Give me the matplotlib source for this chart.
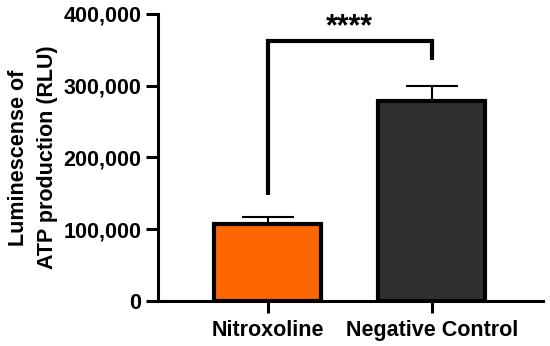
import matplotlib.pyplot as plt
from matplotlib.ticker import FuncFormatter

plt.rcParams['font.family'] = ['Liberation Sans', 'DejaVu Sans']
plt.rcParams['font.weight'] = 'bold'

groups = ['Nitroxoline', 'Negative Control']
means = [107000, 279000]
errs = [10000, 20000]
colors = ['#FF6600', '#303030']
bracket_y = [148000, 362000, 362000, 336000]

fig = plt.figure(figsize=(5.5, 3.46), dpi=100)
ax = fig.add_axes([0.287, 0.130, 0.700, 0.830])

x = list(range(len(groups)))
ax.bar(x, means, width=0.65, color=colors, edgecolor='black', linewidth=3, zorder=2)
ax.errorbar(x, means, yerr=[[0, 0], errs], fmt='none', ecolor='black',
            elinewidth=1.5, capsize=19, capthick=1.5, zorder=1)

# significance bracket
ax.plot([0, 0, 1, 1], bracket_y, color='black', lw=3, solid_capstyle='butt',
        solid_joinstyle='miter')
ax.text(0.5, 360000, '****', ha='center', va='bottom', fontsize=22, fontweight='bold')

ax.set_xlim(-0.67, 1.677)
ax.set_ylim(0, 400000)
ax.set_yticks([0, 100000, 200000, 300000, 400000])
ax.yaxis.set_major_formatter(FuncFormatter(lambda v, p: f'{int(v):,}'))
ax.set_xticks(x)
ax.set_xticklabels(groups)
ax.tick_params(axis='both', labelsize=15.5, width=2.2, length=8.5, direction='out')
ax.tick_params(axis='x', pad=5)
ax.set_ylabel('Luminescense of\nATP production (RLU)', fontsize=15.5, fontweight='bold',
              labelpad=4, linespacing=1.5)

for s in ['top', 'right']:
    ax.spines[s].set_visible(False)
for s in ['left', 'bottom']:
    ax.spines[s].set_linewidth(2.2)

fig.savefig('out.png', dpi=100)
